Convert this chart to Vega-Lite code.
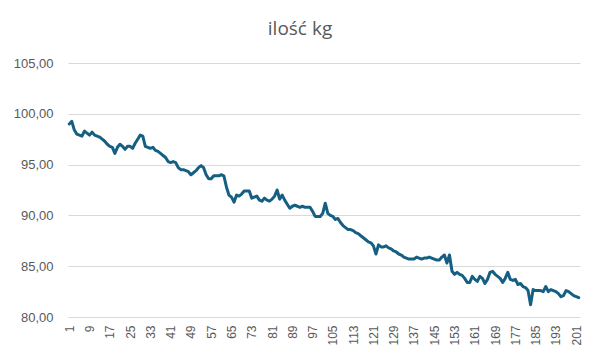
{
  "$schema": "https://vega.github.io/schema/vega-lite/v6.json",
  "autosize": {"type": "none"},
  "width": 512,
  "height": 254,
  "padding": {"left": 68, "top": 63, "right": 20, "bottom": 44},
  "background": "white",
  "title": {
    "text": "ilość kg",
    "anchor": "middle",
    "frame": "group",
    "dx": -24,
    "offset": 18,
    "fontSize": 19,
    "font": "Open Sans",
    "fontWeight": "normal",
    "color": "#595959"
  },
  "config": {
    "view": {"stroke": null},
    "font": "Liberation Sans"
  },
  "data": {
    "values": [
      {"i": 1, "kg": 99.0}, {"i": 2, "kg": 99.25}, {"i": 3, "kg": 98.4}, {"i": 4, "kg": 98.0}, {"i": 5, "kg": 97.9},
      {"i": 6, "kg": 97.8}, {"i": 7, "kg": 98.3}, {"i": 8, "kg": 98.1}, {"i": 9, "kg": 97.9}, {"i": 10, "kg": 98.2},
      {"i": 11, "kg": 97.9}, {"i": 12, "kg": 97.8}, {"i": 13, "kg": 97.7}, {"i": 14, "kg": 97.5}, {"i": 15, "kg": 97.3},
      {"i": 16, "kg": 97.0}, {"i": 17, "kg": 96.8}, {"i": 18, "kg": 96.7}, {"i": 19, "kg": 96.1}, {"i": 20, "kg": 96.7},
      {"i": 21, "kg": 97.0}, {"i": 22, "kg": 96.8}, {"i": 23, "kg": 96.5}, {"i": 24, "kg": 96.8}, {"i": 25, "kg": 96.8},
      {"i": 26, "kg": 96.6}, {"i": 27, "kg": 97.1}, {"i": 28, "kg": 97.5}, {"i": 29, "kg": 97.9}, {"i": 30, "kg": 97.8},
      {"i": 31, "kg": 96.8}, {"i": 32, "kg": 96.7}, {"i": 33, "kg": 96.6}, {"i": 34, "kg": 96.7}, {"i": 35, "kg": 96.4},
      {"i": 36, "kg": 96.3}, {"i": 37, "kg": 96.1}, {"i": 38, "kg": 95.9}, {"i": 39, "kg": 95.7}, {"i": 40, "kg": 95.3},
      {"i": 41, "kg": 95.2}, {"i": 42, "kg": 95.3}, {"i": 43, "kg": 95.2}, {"i": 44, "kg": 94.7}, {"i": 45, "kg": 94.5},
      {"i": 46, "kg": 94.5}, {"i": 47, "kg": 94.4}, {"i": 48, "kg": 94.3}, {"i": 49, "kg": 94.0}, {"i": 50, "kg": 94.2},
      {"i": 51, "kg": 94.4}, {"i": 52, "kg": 94.7}, {"i": 53, "kg": 94.9}, {"i": 54, "kg": 94.7}, {"i": 55, "kg": 94.0},
      {"i": 56, "kg": 93.6}, {"i": 57, "kg": 93.6}, {"i": 58, "kg": 93.9}, {"i": 59, "kg": 93.9}, {"i": 60, "kg": 93.9},
      {"i": 61, "kg": 94.0}, {"i": 62, "kg": 93.9}, {"i": 63, "kg": 92.8}, {"i": 64, "kg": 92.0}, {"i": 65, "kg": 91.8},
      {"i": 66, "kg": 91.3}, {"i": 67, "kg": 92.0}, {"i": 68, "kg": 91.9}, {"i": 69, "kg": 92.1}, {"i": 70, "kg": 92.4},
      {"i": 71, "kg": 92.4}, {"i": 72, "kg": 92.4}, {"i": 73, "kg": 91.7}, {"i": 74, "kg": 91.8}, {"i": 75, "kg": 91.9},
      {"i": 76, "kg": 91.5}, {"i": 77, "kg": 91.4}, {"i": 78, "kg": 91.7}, {"i": 79, "kg": 91.5}, {"i": 80, "kg": 91.4},
      {"i": 81, "kg": 91.6}, {"i": 82, "kg": 91.9}, {"i": 83, "kg": 92.5}, {"i": 84, "kg": 91.6}, {"i": 85, "kg": 92.0},
      {"i": 86, "kg": 91.5}, {"i": 87, "kg": 91.1}, {"i": 88, "kg": 90.7}, {"i": 89, "kg": 90.9}, {"i": 90, "kg": 91.0},
      {"i": 91, "kg": 90.9}, {"i": 92, "kg": 90.8}, {"i": 93, "kg": 90.9}, {"i": 94, "kg": 90.8}, {"i": 95, "kg": 90.8},
      {"i": 96, "kg": 90.8}, {"i": 97, "kg": 90.4}, {"i": 98, "kg": 89.9}, {"i": 99, "kg": 89.9}, {"i": 100, "kg": 89.9},
      {"i": 101, "kg": 90.2}, {"i": 102, "kg": 91.2}, {"i": 103, "kg": 90.2}, {"i": 104, "kg": 90.0}, {"i": 105, "kg": 89.9},
      {"i": 106, "kg": 89.6}, {"i": 107, "kg": 89.7}, {"i": 108, "kg": 89.3}, {"i": 109, "kg": 89.0}, {"i": 110, "kg": 88.8},
      {"i": 111, "kg": 88.6}, {"i": 112, "kg": 88.6}, {"i": 113, "kg": 88.5}, {"i": 114, "kg": 88.3}, {"i": 115, "kg": 88.2},
      {"i": 116, "kg": 88.0}, {"i": 117, "kg": 87.8}, {"i": 118, "kg": 87.6}, {"i": 119, "kg": 87.4}, {"i": 120, "kg": 87.3},
      {"i": 121, "kg": 87.0}, {"i": 122, "kg": 86.2}, {"i": 123, "kg": 87.1}, {"i": 124, "kg": 86.9}, {"i": 125, "kg": 86.9},
      {"i": 126, "kg": 87.0}, {"i": 127, "kg": 86.8}, {"i": 128, "kg": 86.7}, {"i": 129, "kg": 86.5}, {"i": 130, "kg": 86.4},
      {"i": 131, "kg": 86.2}, {"i": 132, "kg": 86.1}, {"i": 133, "kg": 85.9}, {"i": 134, "kg": 85.8}, {"i": 135, "kg": 85.7},
      {"i": 136, "kg": 85.7}, {"i": 137, "kg": 85.7}, {"i": 138, "kg": 85.9}, {"i": 139, "kg": 85.8}, {"i": 140, "kg": 85.7},
      {"i": 141, "kg": 85.8}, {"i": 142, "kg": 85.8}, {"i": 143, "kg": 85.9}, {"i": 144, "kg": 85.8}, {"i": 145, "kg": 85.7},
      {"i": 146, "kg": 85.6}, {"i": 147, "kg": 85.6}, {"i": 148, "kg": 85.9}, {"i": 149, "kg": 86.1}, {"i": 150, "kg": 85.3},
      {"i": 151, "kg": 86.1}, {"i": 152, "kg": 84.5}, {"i": 153, "kg": 84.2}, {"i": 154, "kg": 84.4}, {"i": 155, "kg": 84.2},
      {"i": 156, "kg": 84.1}, {"i": 157, "kg": 83.8}, {"i": 158, "kg": 83.4}, {"i": 159, "kg": 83.4}, {"i": 160, "kg": 84.0},
      {"i": 161, "kg": 83.7}, {"i": 162, "kg": 83.5}, {"i": 163, "kg": 84.0}, {"i": 164, "kg": 83.8}, {"i": 165, "kg": 83.3},
      {"i": 166, "kg": 83.7}, {"i": 167, "kg": 84.4}, {"i": 168, "kg": 84.5}, {"i": 169, "kg": 84.2}, {"i": 170, "kg": 84.0},
      {"i": 171, "kg": 83.8}, {"i": 172, "kg": 83.4}, {"i": 173, "kg": 83.8}, {"i": 174, "kg": 84.4}, {"i": 175, "kg": 83.7},
      {"i": 176, "kg": 83.6}, {"i": 177, "kg": 83.7}, {"i": 178, "kg": 83.2}, {"i": 179, "kg": 83.3}, {"i": 180, "kg": 83.0},
      {"i": 181, "kg": 82.9}, {"i": 182, "kg": 82.6}, {"i": 183, "kg": 81.2}, {"i": 184, "kg": 82.7}, {"i": 185, "kg": 82.6},
      {"i": 186, "kg": 82.6}, {"i": 187, "kg": 82.6}, {"i": 188, "kg": 82.5}, {"i": 189, "kg": 83.0}, {"i": 190, "kg": 82.5},
      {"i": 191, "kg": 82.7}, {"i": 192, "kg": 82.6}, {"i": 193, "kg": 82.5}, {"i": 194, "kg": 82.3}, {"i": 195, "kg": 82.0},
      {"i": 196, "kg": 82.1}, {"i": 197, "kg": 82.6}, {"i": 198, "kg": 82.5}, {"i": 199, "kg": 82.3}, {"i": 200, "kg": 82.1},
      {"i": 201, "kg": 82.0}, {"i": 202, "kg": 81.9}
    ]
  },
  "mark": {"type": "line", "color": "#156082", "strokeWidth": 3, "strokeJoin": "round", "strokeCap": "round"},
  "encoding": {
    "x": {
      "field": "i",
      "type": "ordinal",
      "sort": null,
      "scale": {"type": "point", "padding": 0.5},
      "axis": {
        "title": null,
        "values": [1, 9, 17, 25, 33, 41, 49, 57, 65, 73, 81, 89, 97, 105, 113, 121, 129, 137, 145, 153, 161, 169, 177, 185, 193, 201],
        "labelAngle": -90,
        "labelFontSize": 12,
        "labelColor": "#595959",
        "labelPadding": 8,
        "ticks": false,
        "domain": false,
        "grid": false
      }
    },
    "y": {
      "field": "kg",
      "type": "quantitative",
      "scale": {"domain": [80, 105], "nice": false, "zero": false},
      "axis": {
        "title": null,
        "values": [80, 85, 90, 95, 100, 105],
        "labelExpr": "replace(format(datum.value, '.2f'), '.', ',')",
        "labelFontSize": 13,
        "labelColor": "#595959",
        "labelPadding": 15,
        "ticks": false,
        "domain": false,
        "gridColor": "#D9D9D9",
        "gridWidth": 1
      }
    }
  }
}
